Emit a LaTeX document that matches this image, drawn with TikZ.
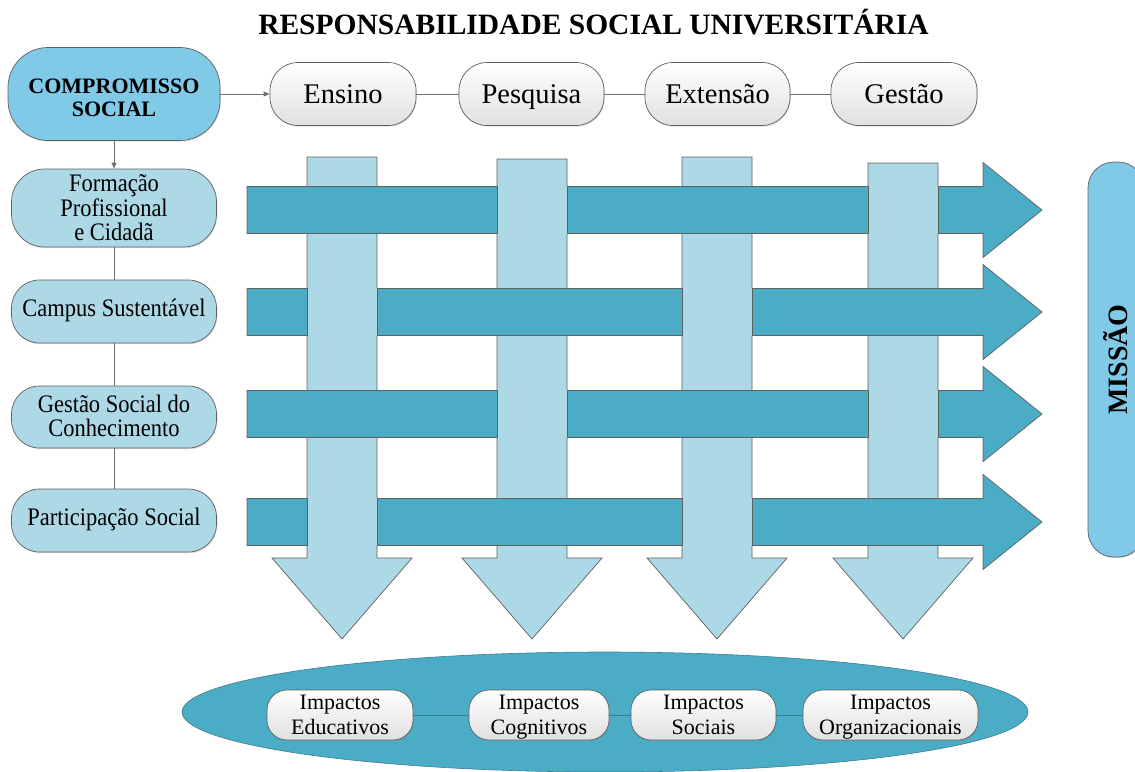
\documentclass[tikz,border=0pt]{standalone}
\usepackage{fontspec}
\usepackage{graphicx}
\setmainfont{Liberation Serif}
\usetikzlibrary{arrows.meta,shadows}
\definecolor{hbar}{RGB}{75,172,198}
\definecolor{vbar}{RGB}{173,216,230}
\definecolor{skyb}{RGB}{128,202,232}
\definecolor{edge}{RGB}{95,95,95}
\definecolor{conn}{RGB}{110,110,110}
\definecolor{impconn}{RGB}{62,125,145}
\newcommand\tallstack[2][0pt]{\raisebox{#1}[\height][\depth]{\scalebox{1}[1.12]{\begin{tabular}{@{}c@{}}#2\end{tabular}}}}
\tikzset{
  pill/.style={rectangle, draw=edge, line width=0.7pt, inner sep=0pt, align=center,
    drop shadow={opacity=0.25, shadow xshift=0.8pt, shadow yshift=-1.2pt}},
  toppill/.style={pill, rounded corners=28pt, top color=white, bottom color=black!12,
    minimum height=63pt, text height=19pt, text depth=0pt, font=\fontsize{28.5}{30}\selectfont},
  leftpill/.style={pill, rounded corners=28pt, fill=vbar, minimum width=205pt,
    font=\fontsize{22.5}{20}\selectfont},
  imppill/.style={pill, rounded corners=20pt, top color=white, bottom color=black!12,
    minimum height=50pt, text depth=0pt, font=\fontsize{22}{25}\selectfont},
  link/.style={draw=conn, line width=0.7pt},
  arr/.style={link, -{Triangle[length=6pt,width=5pt]}},
  implink/.style={draw=impconn, line width=1pt},
  outline/.style={draw=edge, line width=0.7pt},
  hfill/.style={fill=hbar},
  vfill/.style={fill=vbar},
}
\begin{document}
\begin{tikzpicture}[x=1pt,y=-1pt]
\useasboundingbox (0,0) rectangle (1135,771);
\clip (0,0) rectangle (1135,771);

% title
\node[font=\bfseries\fontsize{29.5}{31}\selectfont, anchor=base, inner sep=0pt] (title) at (593.5,34) {RESPONSABILIDADE SOCIAL UNIVERSITÁRIA};

% top row
\node[pill, rounded corners=40pt, fill=skyb, minimum width=212pt, minimum height=93pt,
  text height=45pt, text depth=0pt,
  font=\bfseries\fontsize{22}{23.5}\selectfont] (comp) at (114,94) {COMPROMISSO\\SOCIAL};
\node[toppill, minimum width=146pt] (ens) at (343,94) {Ensino};
\node[toppill, minimum width=145pt] (pes) at (531.5,94) {Pesquisa};
\node[toppill, minimum width=145pt] (ext) at (717.5,94) {Extensão};
\node[toppill, minimum width=146pt] (ges) at (904,94) {Gestão};
\draw[arr] (comp.east) -- (ens.west);
\draw[link] (ens.east) -- (pes.west);
\draw[link] (pes.east) -- (ext.west);
\draw[link] (ext.east) -- (ges.west);

% left column
\node[leftpill, rounded corners=33pt, minimum height=78pt] (f1) at (114,208) {\tallstack[-3pt]{Formação\\Profissional\\e Cidadã}};
\node[leftpill, minimum height=63pt] (f2) at (114,311.5) {\tallstack{Campus Sustentável}};
\node[leftpill, minimum height=62pt] (f3) at (114,417) {\tallstack[-2pt]{Gestão Social do\\Conhecimento}};
\node[leftpill, minimum height=63pt] (f4) at (114,520.5) {\tallstack{Participação Social}};
\draw[arr] (comp.south) -- (f1.north);
\draw[link] (f1.south) -- (f2.north);
\draw[link] (f2.south) -- (f3.north);
\draw[link] (f3.south) -- (f4.north);

% vertical arrows (drawn first)
\foreach \cx/\tp in {342/157, 532/159, 717/157, 903/163} {
  \filldraw[vfill, outline] (\cx-35,\tp) -- (\cx+35,\tp) -- (\cx+35,558) -- (\cx+70,558)
    -- (\cx,639) -- (\cx-70,558) -- (\cx-35,558) -- cycle;
}
% horizontal arrows (on top of everything)
\foreach \cy in {210,312,414,522} {
  \filldraw[hfill, outline] (247,\cy-23.5) -- (983,\cy-23.5) -- (983,\cy-47.5) -- (1042,\cy)
    -- (983,\cy+47.5) -- (983,\cy+23.5) -- (247,\cy+23.5) -- cycle;
}
% weave: vertical shafts brought back on top at alternate crossings
\foreach \cx/\cy in {342/312, 342/522, 532/210, 532/414, 717/312, 717/522, 903/210, 903/414} {
  \begin{scope}
    \clip (\cx-40,\cy-23.5) rectangle (\cx+40,\cy+23.5);
    \filldraw[vfill, outline] (\cx-35,\cy-60) rectangle (\cx+35,\cy+60);
  \end{scope}
}

% mission
\node[pill, rounded corners=26pt, fill=skyb, rotate=90, minimum width=395pt, minimum height=56pt,
  font=\bfseries\fontsize{28}{30}\selectfont] (missao) at (1116,359.5) {MISSÃO};

% impacts
\filldraw[fill=hbar, draw=impconn, line width=0.6pt] (605,712) ellipse [x radius=423, y radius=60];
\node[imppill, minimum width=146pt] (i1) at (340,715) {Impactos\\Educativos};
\node[imppill, minimum width=140pt] (i2) at (539,715) {Impactos\\Cognitivos};
\node[imppill, minimum width=145pt] (i3) at (703.5,715) {Impactos\\Sociais};
\node[imppill, minimum width=175pt] (i4) at (890.5,715) {Impactos\\Organizacionais};
\draw[implink] (i1.east) -- (i2.west);
\draw[implink] (i2.east) -- (i3.west);
\draw[implink] (i3.east) -- (i4.west);
\end{tikzpicture}
\end{document}
